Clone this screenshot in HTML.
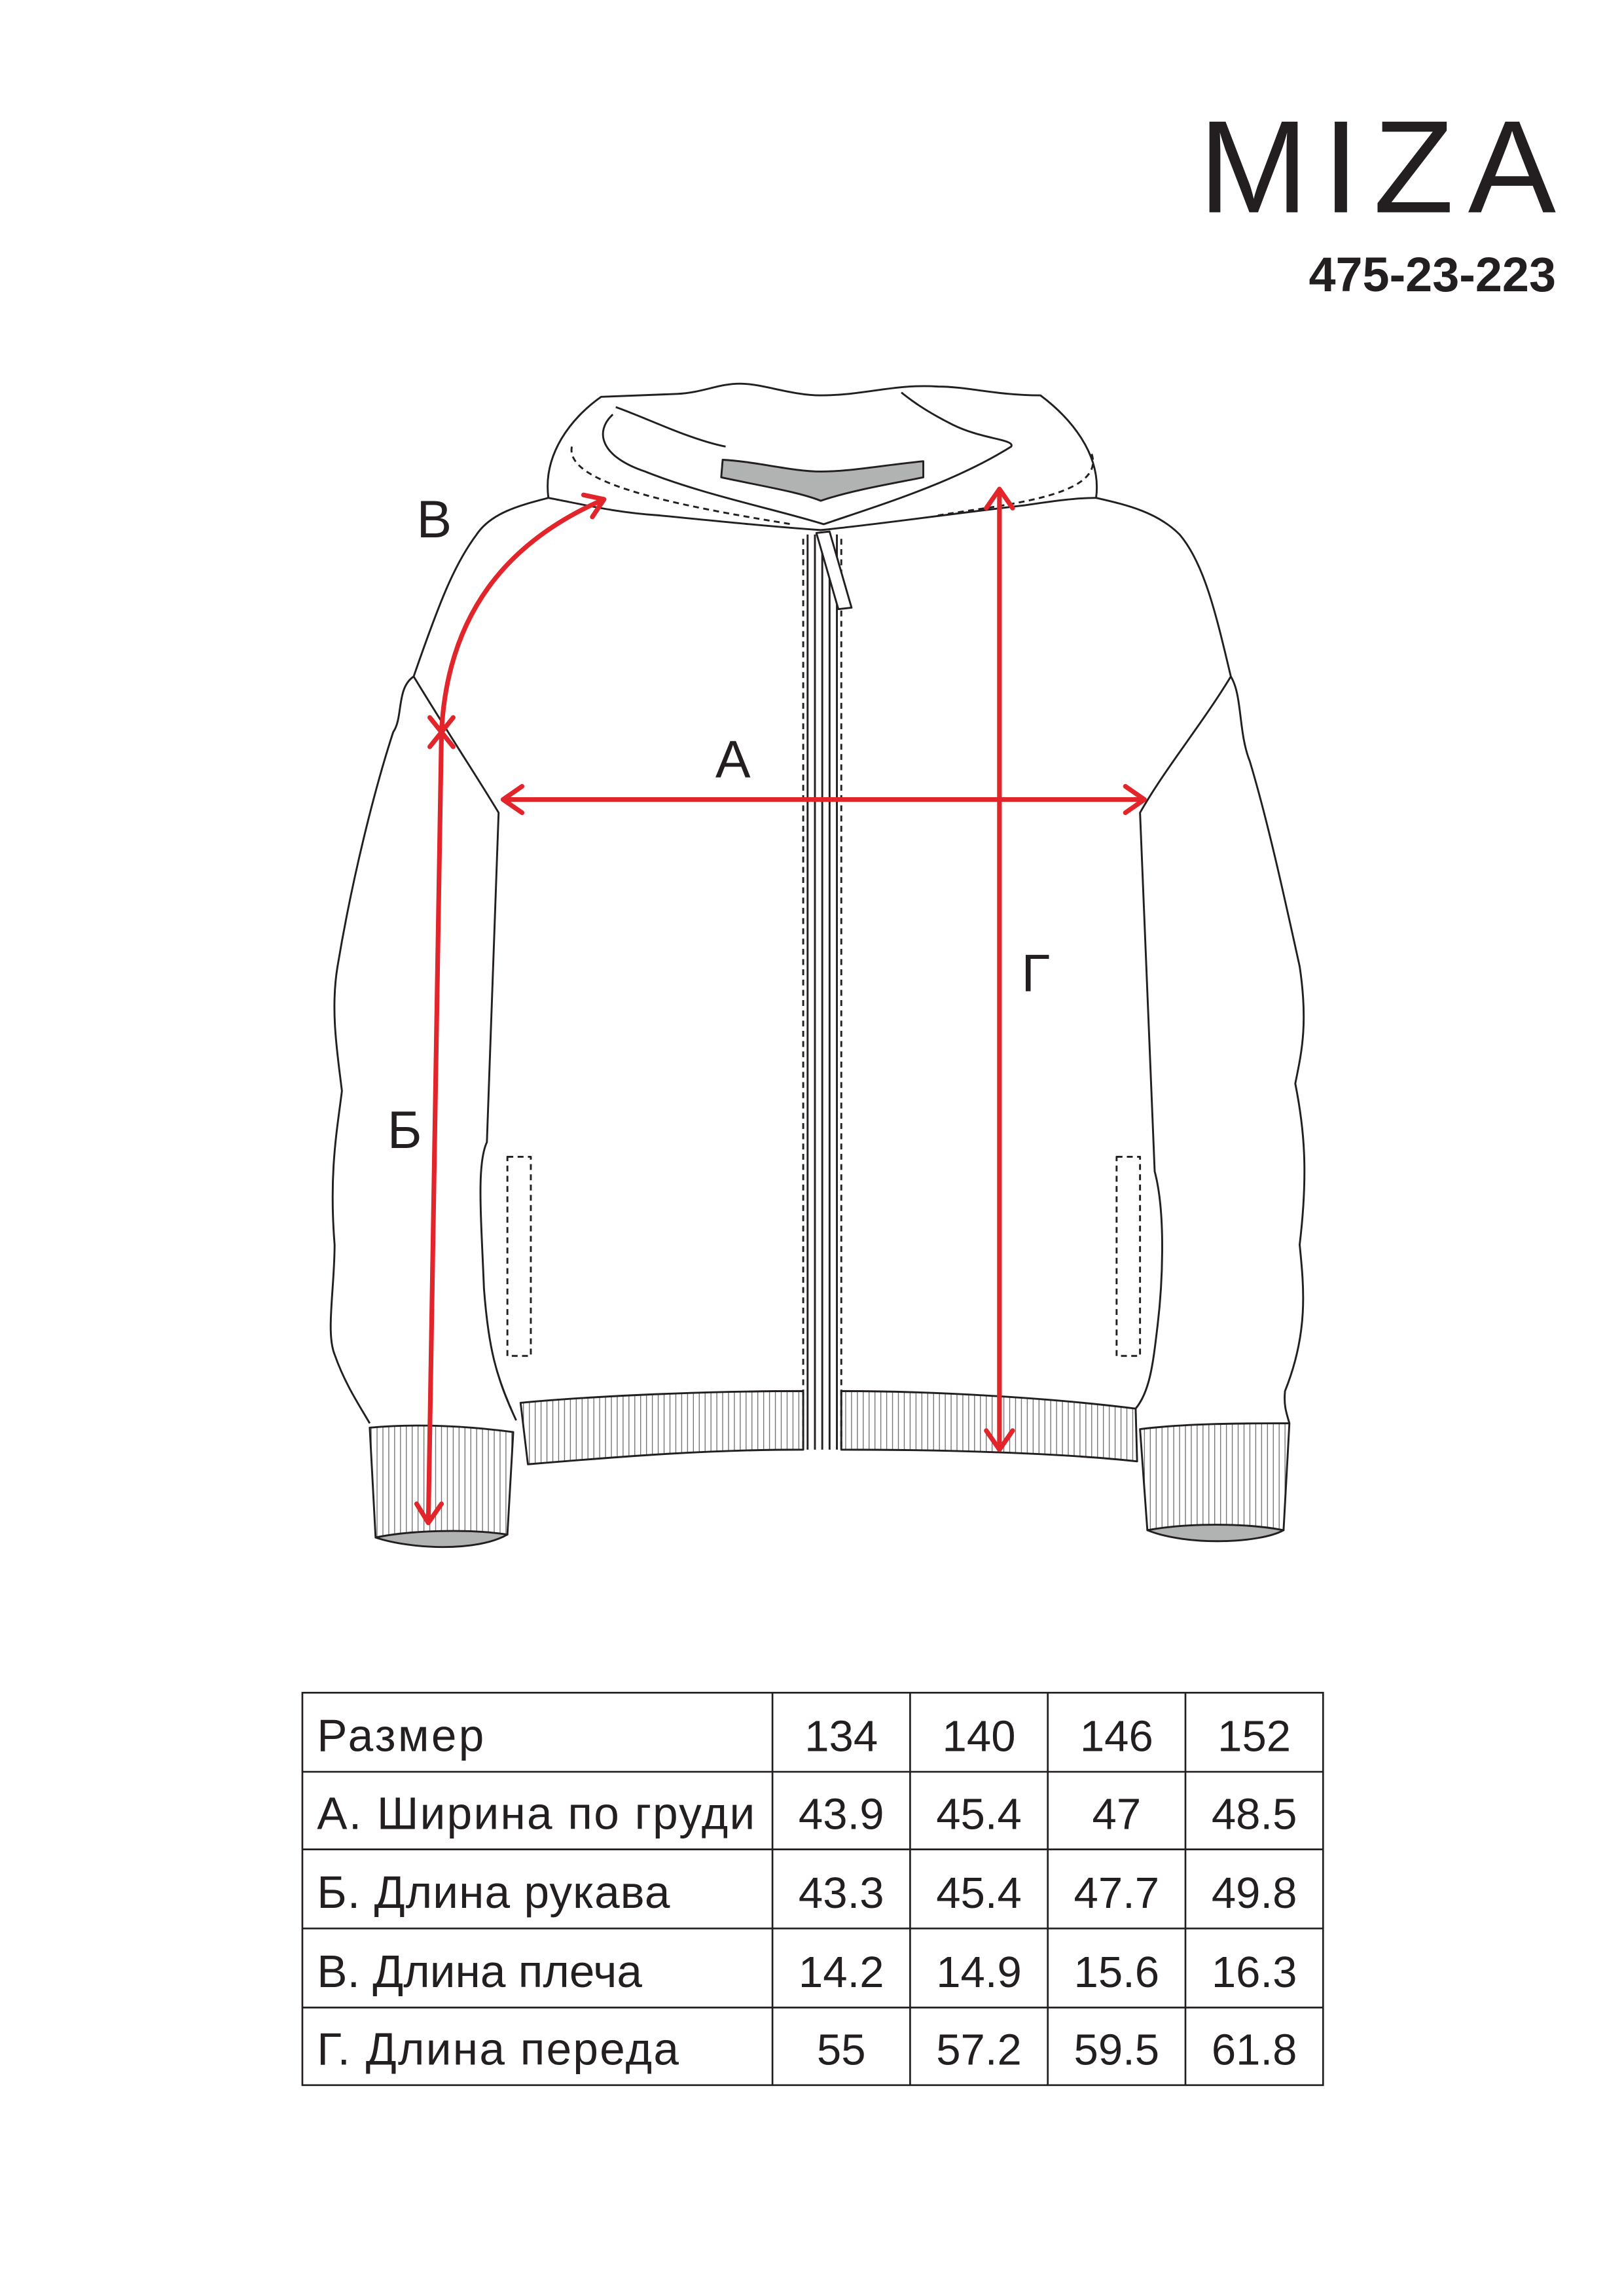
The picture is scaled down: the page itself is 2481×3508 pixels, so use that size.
<!DOCTYPE html>
<html><head><meta charset="utf-8"><style>
html,body{margin:0;padding:0;background:#fff;}
svg{display:block;}
text{font-family:"Liberation Sans","DejaVu Sans",sans-serif;fill:#231f20;}
</style></head><body>
<svg width="2481" height="3508" viewBox="0 0 1108 1568" xmlns="http://www.w3.org/2000/svg">
<defs>
<pattern id="rib" width="4" height="10" patternUnits="userSpaceOnUse">
<line x1="1" y1="0" x2="1" y2="10" stroke="#555" stroke-width="0.5"/>
</pattern>
</defs>
<rect width="1108" height="1568" fill="#fff"/>
<text x="818" y="145" font-size="90" textLength="244" lengthAdjust="spacing">MIZA</text>
<text x="1062" y="199" font-size="33" font-weight="bold" text-anchor="end">475-23-223</text>

<g fill="none" stroke="#231f20" stroke-width="1.3" stroke-linejoin="round">
<path d="M374,340 C370,310 390,285 410,271 L462,269 C480,268 490,262 505,262 C520,262 540,270 560,270 C590,270 610,262 640,264 C660,264 680,270 710,270 C730,285 752,310 748,340" fill="#fff"/>
<path d="M418,283 C405,295 410,312 440,322 C480,338 530,348 562,358 C600,345 650,330 690,305 C693,300 670,300 650,290 C630,280 620,272 615,268"/>
<path d="M420,278 C440,285 470,300 495,305"/>
<path d="M493,314 L492,326 C520,332 545,336 560,342 C580,335 610,330 630,326 L630,315 C600,318 580,322 560,322 C540,322 515,315 493,314 Z" fill="#b1b2b2"/>
<path d="M390,305 C385,330 460,345 540,358" stroke-dasharray="4,3"/>
<path d="M745,310 C755,340 680,345 640,352" stroke-dasharray="4,3"/>
<path d="M374,340 C355,345 335,350 325,365 C310,385 300,410 282,462 C305,500 325,530 340,555 L332,780 C325,795 328,830 330,880 C333,920 338,940 352,970"/>
<path d="M282,462 C270,470 275,490 268,500 C255,540 240,600 230,660 C225,690 230,720 233,745 C230,770 224,800 228,850 C228,880 222,910 228,925 C235,945 245,960 252,972"/>
<path d="M748,340 C770,345 790,350 805,365 C822,385 830,420 840,462 C820,495 795,525 778,555 L788,800 C796,830 793,880 790,905 C787,930 785,950 775,962"/>
<path d="M840,462 C848,475 845,500 853,520 C865,560 876,610 887,660 C893,700 888,720 884,740 C890,770 893,800 887,850 C890,880 893,910 877,950 C876,960 878,965 880,972"/>
<path d="M374,340 C400,345 420,350 450,352 C490,356 530,360 560,362 C600,358 640,352 700,345 C720,342 735,340 748,340"/>
<path d="M551,365 V990 M556,365 V990 M561,365 V990 M566,370 V990 M571,365 V990"/>
<path d="M548,368 V990 M574,368 V990" stroke-dasharray="4,3"/>
<path d="M557,364 L566,363 L581,415 L572,416 Z" fill="#fff"/>
<rect x="346" y="790" width="16" height="136" stroke-dasharray="4,3"/>
<rect x="762" y="790" width="16" height="136" stroke-dasharray="4,3"/>
<path d="M355,958 C420,952 500,950 548,950 L548,990 C480,990 420,995 360,1000 Z" fill="url(#rib)"/>
<path d="M574,950 C640,950 720,955 775,962 L776,998 C720,992 640,990 574,990 Z" fill="url(#rib)"/>
<path d="M252,975 C285,972 320,974 350,978 L346,1048 C320,1046 280,1046 256,1050 Z" fill="url(#rib)"/>
<path d="M256,1050 C280,1058 325,1060 346,1048 C320,1044 280,1045 256,1050 Z" fill="#b1b2b2"/>
<path d="M778,976 C810,972 850,972 880,972 L876,1045 C850,1042 810,1041 783,1045 Z" fill="url(#rib)"/>
<path d="M783,1045 C810,1056 860,1054 876,1045 C850,1040 810,1040 783,1045 Z" fill="#b1b2b2"/>
</g>

<g fill="none" stroke="#e2242b" stroke-width="3.2" stroke-linecap="round" stroke-linejoin="round">
<path d="M343,546 H781 M356,537 L343,546 L356,555 M768,537 L781,546 L768,555"/>
<path d="M682,334 V990 M673,347 L682,334 L691,347 M673,977 L682,990 L691,977"/>
<path d="M301,500 L292,1040 M284,1027 L292,1040 L301,1027"/>
<path d="M301,500 C305,420 345,370 412,341 M398,338 L412,341 L404,353"/>
<path d="M293,490 L309,510 M309,490 L293,510"/>
</g>

<g font-size="36">
<text x="284" y="367">В</text>
<text x="488" y="531">А</text>
<text x="697" y="677">Г</text>
<text x="264" y="784">Б</text>
</g>

<g stroke="#231f20" stroke-width="1.2" fill="none">
<rect x="206" y="1156" width="697" height="268"/>
<path d="M206,1210 H903 M206,1263 H903 M206,1317 H903 M206,1371 H903 M527,1156 V1424 M621,1156 V1424 M715,1156 V1424 M809,1156 V1424"/>
</g>
<g font-size="31">
<text x="216" y="1196" textLength="114">Размер</text>
<text x="216" y="1249" textLength="299">А. Ширина по груди</text>
<text x="216" y="1303" textLength="241">Б. Длина рукава</text>
<text x="216" y="1357" textLength="222">В. Длина плеча</text>
<text x="216" y="1410" textLength="247">Г. Длина переда</text>
</g>
<g font-size="30" text-anchor="middle">
<text x="574" y="1196">134</text><text x="668" y="1196">140</text><text x="762" y="1196">146</text><text x="856" y="1196">152</text>
<text x="574" y="1249">43.9</text><text x="668" y="1249">45.4</text><text x="762" y="1249">47</text><text x="856" y="1249">48.5</text>
<text x="574" y="1303">43.3</text><text x="668" y="1303">45.4</text><text x="762" y="1303">47.7</text><text x="856" y="1303">49.8</text>
<text x="574" y="1357">14.2</text><text x="668" y="1357">14.9</text><text x="762" y="1357">15.6</text><text x="856" y="1357">16.3</text>
<text x="574" y="1410">55</text><text x="668" y="1410">57.2</text><text x="762" y="1410">59.5</text><text x="856" y="1410">61.8</text>
</g>
</svg>
</body></html>
